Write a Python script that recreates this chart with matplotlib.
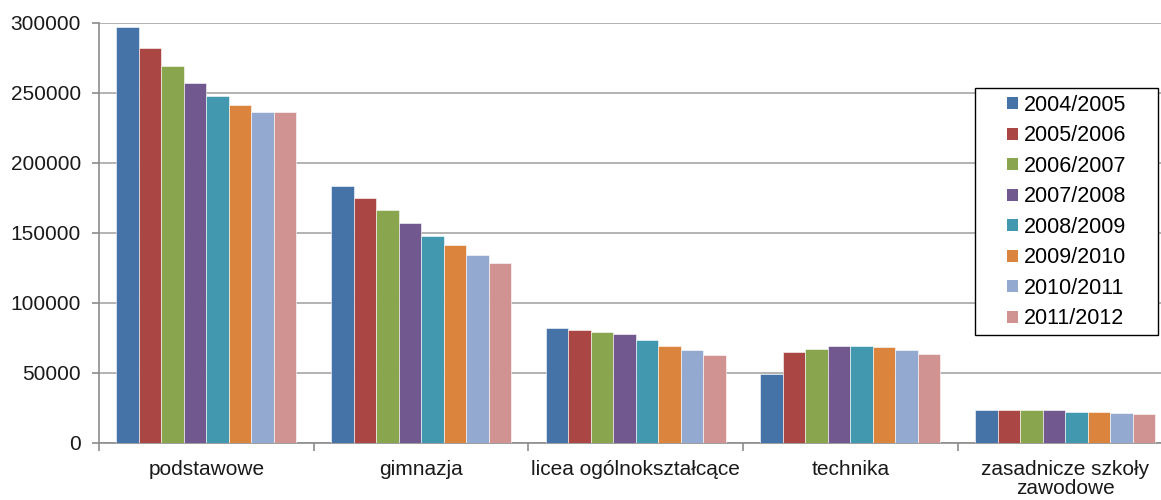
import numpy as np
import matplotlib
matplotlib.use("Agg")
import matplotlib.pyplot as plt
from matplotlib.patches import Patch, Rectangle

plt.rcParams['font.family'] = ['Liberation Sans', 'DejaVu Sans']

categories = ['podstawowe', 'gimnazja', 'licea ogólnokształcące', 'technika',
              'zasadnicze szkoły\nzawodowe']
years = ['2004/2005', '2005/2006', '2006/2007', '2007/2008',
         '2008/2009', '2009/2010', '2010/2011', '2011/2012']
colors = ['#4572A7', '#AA4643', '#89A54E', '#71588F',
          '#4198AF', '#DB843D', '#93A9CF', '#D19392']

# rows: years, columns: categories
values = [
    [297000, 183600, 81900, 49500, 23300],
    [282400, 175200, 81000, 64800, 23300],
    [269500, 166200, 79300, 67400, 23300],
    [256900, 156900, 77600, 69300, 23300],
    [247600, 147900, 73800, 69300, 22400],
    [241200, 141200, 69300, 68300, 22400],
    [236700, 134100, 66200, 66400, 21700],
    [236700, 128300, 62900, 63800, 20700],
]

W, H = 1161, 500
fs = 15

fig = plt.figure(figsize=(W / 100, H / 100), dpi=100)
ax = fig.add_axes([99 / W, 57 / H, 1073.5 / W, 420 / H])

n = len(years)
bw = 0.838 / n
x = np.arange(len(categories))
for i, (yr, col) in enumerate(zip(years, colors)):
    ax.bar(x - 0.419 + bw * (i + 0.5), values[i], width=bw, color=col,
           edgecolor='white', linewidth=0.4, zorder=3)

ax.set_xlim(-0.5, len(categories) - 0.5)
ax.set_ylim(0, 300000)
ax.set_yticks(range(0, 300001, 50000))
ax.yaxis.grid(True, color='#a6a6a6', linewidth=1.2, zorder=0)

ax.set_xticks(x)
ax.set_xticklabels(categories, fontsize=fs, color='#1a1a1a', linespacing=1.05)
ax.set_xticks(np.arange(-0.5, len(categories) + 0.5, 1), minor=True)
ax.tick_params(axis='x', which='major', length=0, pad=12)
ax.tick_params(axis='x', which='minor', length=6, color='#8c8c8c', width=1.2)
ax.tick_params(axis='y', labelsize=fs, labelcolor='#1a1a1a', length=5,
               color='#8c8c8c', width=1.2, pad=8)

for s in ['top', 'right']:
    ax.spines[s].set_visible(False)
for s in ['left', 'bottom']:
    ax.spines[s].set_color('#8c8c8c')
    ax.spines[s].set_linewidth(1.2)

# legend entries without frame, frame drawn separately (wide side padding)
handles = [Patch(facecolor=c, edgecolor='none') for c in colors]
leg = fig.legend(handles, years, loc='upper left',
                 bbox_to_anchor=(1007 / W, 1 - 95 / H),
                 fontsize=15.5, frameon=False,
                 handlelength=0.5, handleheight=0.5, handletextpad=0.3,
                 labelspacing=0.44, borderpad=0, borderaxespad=0)
fig.add_artist(Rectangle((975 / W, 1 - 335 / H), 183 / W, 247 / H,
                         transform=fig.transFigure, facecolor='white',
                         edgecolor='black', linewidth=1.0, zorder=2))
leg.set_zorder(5)

fig.savefig('out.png', dpi=100)
